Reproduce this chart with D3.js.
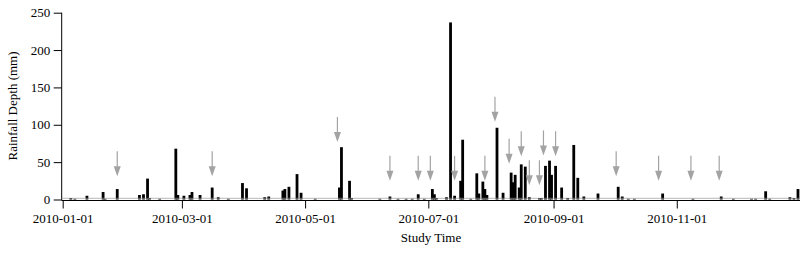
<!DOCTYPE html>
<html>
<head>
<meta charset="utf-8">
<script src="https://cdn.jsdelivr.net/npm/d3@7"></script>
<style>
  body { margin: 0; background: #fff; }
  svg { display: block; }
  svg text { font-family: "Liberation Serif", "Times New Roman", serif; }
</style>
</head>
<body>
<div id="chart"></div>
<script>
// --- 1. DATA ---
const rainDates = [
  "2010-01-05", "2010-01-07", "2010-01-13", "2010-01-21", "2010-01-22", "2010-01-28",
  "2010-02-08", "2010-02-10", "2010-02-12", "2010-02-13", "2010-02-18", "2010-02-26", "2010-02-27",
  "2010-03-02", "2010-03-05", "2010-03-06", "2010-03-10", "2010-03-16", "2010-03-19", "2010-03-24", "2010-03-31",
  "2010-04-02", "2010-04-11", "2010-04-13", "2010-04-20", "2010-04-21", "2010-04-23", "2010-04-27", "2010-04-29",
  "2010-05-06", "2010-05-18", "2010-05-19", "2010-05-23", "2010-05-24",
  "2010-06-07", "2010-06-12", "2010-06-16", "2010-06-20", "2010-06-23", "2010-06-26", "2010-06-29",
  "2010-07-03", "2010-07-04", "2010-07-05", "2010-07-10", "2010-07-12", "2010-07-14", "2010-07-17", "2010-07-18",
  "2010-07-22", "2010-07-25", "2010-07-26", "2010-07-28", "2010-07-29", "2010-07-30",
  "2010-08-04", "2010-08-07", "2010-08-11", "2010-08-12", "2010-08-13", "2010-08-15", "2010-08-16", "2010-08-18",
  "2010-08-20", "2010-08-25", "2010-08-26", "2010-08-28", "2010-08-30", "2010-08-31",
  "2010-09-02", "2010-09-05", "2010-09-08", "2010-09-11", "2010-09-13", "2010-09-16", "2010-09-23",
  "2010-10-03", "2010-10-05", "2010-10-08", "2010-10-11", "2010-10-25",
  "2010-11-09", "2010-11-23", "2010-11-29",
  "2010-12-08", "2010-12-10", "2010-12-15", "2010-12-17", "2010-12-27", "2010-12-29", "2010-12-31"
];
const rainValues = [
  2, 1, 5, 10, 1, 14,
  6, 7, 28, 2, 1, 68, 6,
  5, 6, 10, 6, 16, 3, 1, 22,
  15, 3, 4, 12, 14, 17, 34, 9,
  1, 16, 70, 25, 2,
  1, 4, 1, 1, 1, 7, 1,
  14, 7, 2, 3, 237, 5, 25, 80,
  1, 35, 8, 24, 14, 6,
  96, 9, 36, 23, 33, 16, 47, 44,
  3, 2, 2, 45, 52, 33,
  45, 16, 2, 73, 29, 4, 8,
  17, 4, 1, 1, 8,
  1, 4, 1,
  1, 1, 11, 1, 3, 2, 14
];

// grey arrows: date and the depth (mm) their tip points at
const arrowDates = [
  "2010-01-28", "2010-03-16", "2010-05-17", "2010-06-12", "2010-06-26", "2010-07-02",
  "2010-07-14", "2010-07-29", "2010-08-03", "2010-08-10", "2010-08-16", "2010-08-20",
  "2010-08-25", "2010-08-27", "2010-09-02", "2010-10-02", "2010-10-23", "2010-11-08", "2010-11-22"
];
const arrowTips = [
  31, 31, 77, 25, 25, 25,
  25, 25, 104, 48, 58, 19,
  19, 59, 58, 31, 25, 25, 25
];

const xTickLabels = ["2010-01-01", "2010-03-01", "2010-05-01", "2010-07-01", "2010-09-01", "2010-11-01"];
const yTicks = [0, 50, 100, 150, 200, 250];

// --- 2. PARSING ---
const parseDate = d3.utcParse("%Y-%m-%d");
const bars = rainDates.map((d, i) => ({ date: parseDate(d), value: rainValues[i] }));
const arrows = arrowDates.map((d, i) => ({ date: parseDate(d), tip: arrowTips[i] }));

// --- 3. SETUP ---
const W = 800, H = 259;
const svg = d3.select("#chart").append("svg")
  .attr("width", W)
  .attr("height", H);

const x = d3.scaleUtc()
  .domain([parseDate("2010-01-01"), parseDate("2011-01-01")])
  .range([62.7, 800]);

const y = d3.scaleLinear()
  .domain([0, 250])
  .range([199.5, 12.7]);

const axisX0 = 61.7;   // y axis position
const axisY0 = 200.5;  // x axis position
const serif = "Liberation Serif, Times New Roman, serif";

// --- 4. BARS ---
const barW = 2.8;
svg.append("g")
  .selectAll("rect")
  .data(bars)
  .join("rect")
  .attr("x", d => x(d.date) - barW / 2)
  .attr("y", d => y(d.value))
  .attr("width", barW)
  .attr("height", d => y(0) - y(d.value))
  .attr("fill", "#000");

// --- 5. AXES ---
const yAxis = d3.axisLeft(y).tickValues(yTicks).tickSize(8).tickSizeOuter(0).tickPadding(3.5);
const gy = svg.append("g")
  .attr("transform", `translate(${axisX0},0)`)
  .call(yAxis)
  .attr("font-family", serif)
  .attr("font-size", 13);
gy.select(".domain").remove();
gy.selectAll("text").attr("fill", "#000");
gy.selectAll("line").attr("stroke", "#000");
svg.append("line")
  .attr("x1", axisX0).attr("x2", axisX0)
  .attr("y1", y(250)).attr("y2", axisY0)
  .attr("stroke", "#000");

const xAxis = d3.axisBottom(x)
  .tickValues(xTickLabels.map(parseDate))
  .tickFormat(d3.utcFormat("%Y-%m-%d"))
  .tickSize(8)
  .tickSizeOuter(0)
  .tickPadding(5.5);
const gx = svg.append("g")
  .attr("transform", `translate(0,${axisY0})`)
  .call(xAxis)
  .attr("font-family", serif)
  .attr("font-size", 13);
gx.select(".domain").remove();
gx.selectAll("text").attr("fill", "#000");
gx.selectAll("line").attr("stroke", "#000");
svg.append("line")
  .attr("x1", axisX0).attr("x2", W)
  .attr("y1", axisY0).attr("y2", axisY0)
  .attr("stroke", "#000");
// thin grey zero line the bars stand on
svg.append("line")
  .attr("x1", axisX0).attr("x2", W)
  .attr("y1", y(0) - 1.2).attr("y2", y(0) - 1.2)
  .attr("stroke", "#999")
  .attr("stroke-width", 0.7);

// axis titles
svg.append("text")
  .attr("transform", "translate(17,106) rotate(-90)")
  .attr("text-anchor", "middle")
  .attr("font-size", 13)
  .text("Rainfall Depth (mm)");

svg.append("text")
  .attr("x", 431)
  .attr("y", 242)
  .attr("text-anchor", "middle")
  .attr("font-size", 13)
  .text("Study Time");

// --- 6. ARROWS ---
const arrowLen = 25, headLen = 10, headHalf = 3.5;
const ga = svg.append("g").attr("fill", "#a3a3a3").attr("stroke", "#a3a3a3");
ga.selectAll("line")
  .data(arrows)
  .join("line")
  .attr("x1", d => x(d.date)).attr("x2", d => x(d.date))
  .attr("y1", d => y(d.tip) - arrowLen)
  .attr("y2", d => y(d.tip) - headLen + 1)
  .attr("stroke-width", 1.2);
ga.selectAll("path")
  .data(arrows)
  .join("path")
  .attr("stroke", "none")
  .attr("d", d => {
    const cx = x(d.date), ty = y(d.tip);
    return `M${cx - headHalf},${ty - headLen}L${cx + headHalf},${ty - headLen}L${cx},${ty}Z`;
  });
</script>
</body>
</html>
